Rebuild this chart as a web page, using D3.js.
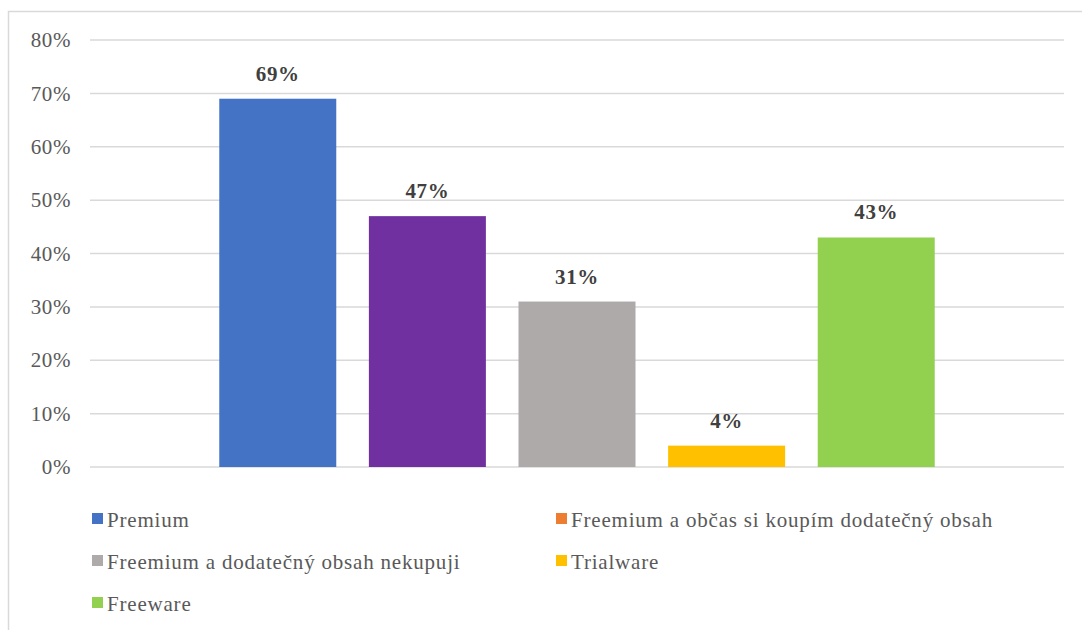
<!DOCTYPE html>
<html>
<head>
<meta charset="utf-8">
<script src="https://cdn.jsdelivr.net/npm/d3@7"></script>
<style>
  html, body { margin: 0; padding: 0; background: #fff; }
  svg { display: block; }
  svg text { font-family: "Liberation Serif", "Times New Roman", Tinos, "DejaVu Serif", serif; }
</style>
</head>
<body>
<svg id="chart" width="1082" height="630"></svg>
<script>
// Software licensing models (share of respondents)
const seriesNames = [
  "Premium",
  "Freemium a občas si koupím dodatečný obsah",
  "Freemium a dodatečný obsah nekupuji",
  "Trialware",
  "Freeware"
];
const seriesValues = [69, 47, 31, 4, 43];
const barColors = ["#4472C4", "#7030A0", "#AEAAAA", "#FFC000", "#92D050"];
const legendColors = ["#4472C4", "#ED7D31", "#AEAAAA", "#FFC000", "#92D050"];
const yTicks = [0, 10, 20, 30, 40, 50, 60, 70, 80];

const svg = d3.select("#chart");

// chart area frame
svg.append("path")
  .attr("d", "M8.5,640 L8.5,11.5 L1090,11.5")
  .attr("fill", "none")
  .attr("stroke", "#d9d9d9")
  .attr("stroke-width", 1.5);

const plot = { left: 90, right: 1064, top: 40, bottom: 467 };

const y = d3.scaleLinear().domain([0, 80]).range([plot.bottom, plot.top]);
const x = d3.scaleBand()
  .domain(seriesNames)
  .range([plot.left, plot.right])
  .paddingInner(0.218)
  .paddingOuter(0.864);

// gridlines
svg.append("g")
  .selectAll("line")
  .data(yTicks)
  .join("line")
  .attr("x1", plot.left)
  .attr("x2", plot.right)
  .attr("y1", d => y(d))
  .attr("y2", d => y(d))
  .attr("stroke", "#d9d9d9")
  .attr("stroke-width", 1.5);

// y axis labels
const yAxis = d3.axisLeft(y)
  .tickValues(yTicks)
  .tickFormat(d => d + "%")
  .tickSize(0)
  .tickPadding(0);
const yg = svg.append("g")
  .attr("transform", `translate(71,0)`)
  .call(yAxis);
yg.select(".domain").remove();
yg.attr("font-family", null);
yg.selectAll("text")
  .attr("font-size", 21)
  .attr("letter-spacing", 0.6)
  .attr("fill", "#595959");

// bars
const data = seriesNames.map((name, i) => ({ name, value: seriesValues[i], color: barColors[i] }));
svg.append("g")
  .selectAll("rect")
  .data(data)
  .join("rect")
  .attr("x", d => x(d.name))
  .attr("width", x.bandwidth())
  .attr("y", d => y(d.value))
  .attr("height", d => y(0) - y(d.value))
  .attr("fill", d => d.color);

// value labels
svg.append("g")
  .selectAll("text")
  .data(data)
  .join("text")
  .attr("x", d => x(d.name) + x.bandwidth() / 2)
  .attr("y", d => y(d.value) - 18)
  .attr("text-anchor", "middle")
  .attr("font-weight", "bold")
  .attr("font-size", 21)
  .attr("letter-spacing", 0.6)
  .attr("fill", "#404040")
  .text(d => d.value + "%");

// legend (two columns)
const legendCols = [92, 556];
const legendRows = [519, 561, 603];
const legend = svg.append("g")
  .selectAll("g")
  .data(seriesNames.map((name, i) => ({ name, color: legendColors[i], i })))
  .join("g")
  .attr("transform", d => `translate(${legendCols[d.i % 2]},${legendRows[Math.floor(d.i / 2)]})`);
legend.append("rect")
  .attr("x", 0)
  .attr("y", -6)
  .attr("width", 11)
  .attr("height", 11)
  .attr("fill", d => d.color);
legend.append("text")
  .attr("x", 15)
  .attr("y", 8)
  .attr("font-size", 21)
  .attr("letter-spacing", 0.8)
  .attr("fill", "#595959")
  .text(d => d.name);
</script>
</body>
</html>
